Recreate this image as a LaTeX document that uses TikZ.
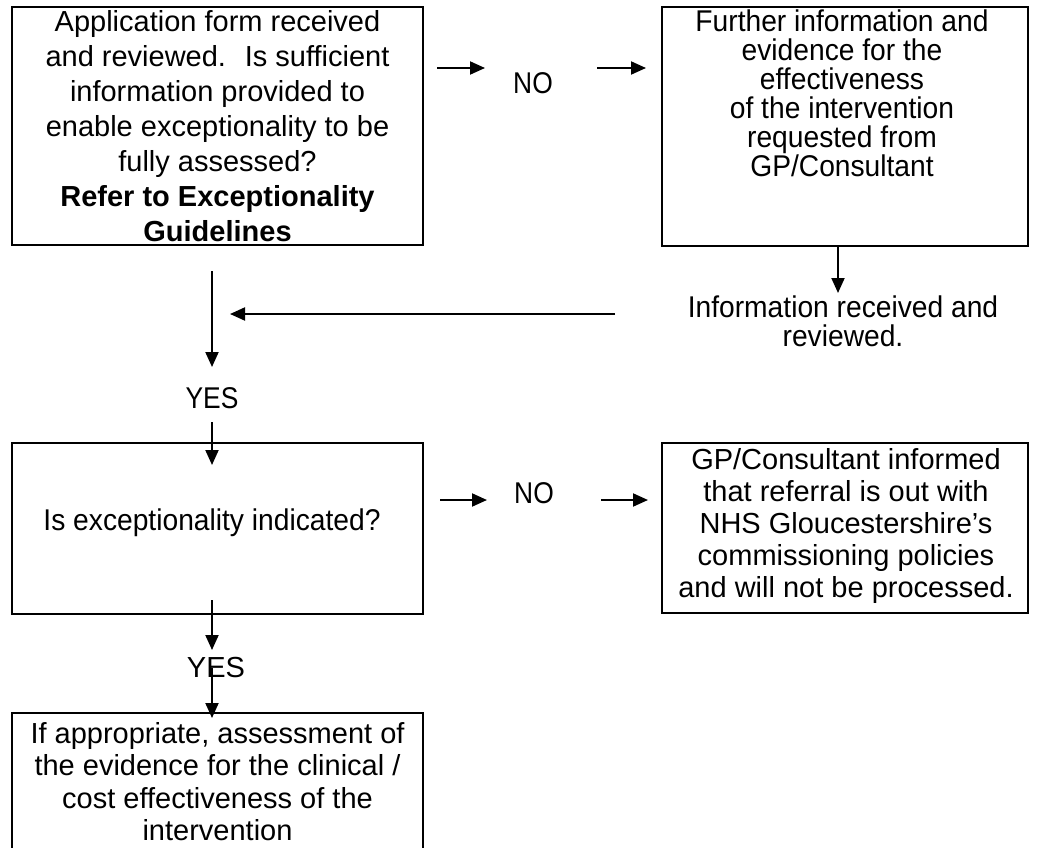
\documentclass[tikz,border=0pt]{standalone}
\usepackage{fontspec}
\setmainfont{Liberation Sans}
\newfontfamily\narrowfont[FakeStretch=0.88]{Liberation Sans}
\newfontfamily\semifont[FakeStretch=0.94]{Liberation Sans}
\usetikzlibrary{arrows.meta}
\begin{document}
\begin{tikzpicture}[x=1pt,y=-1pt,
  box/.style={draw, line width=2.4pt, inner sep=0pt},
  txt/.style={font=\fontsize{29}{35}\selectfont, align=center, inner sep=0pt},
  ntxt/.style={font=\narrowfont\fontsize{30}{29}\selectfont, align=center, inner sep=0pt},
  stxt/.style={font=\semifont\fontsize{30}{29}\selectfont, align=center, inner sep=0pt},
  arr/.style={line width=2pt, -{Triangle[length=15pt,width=13pt]}}]
\useasboundingbox (0,0) rectangle (1038,848);
\clip (0,0) rectangle (1038,848);
% boxes
\node[box, minimum width=411pt, minimum height=238pt] (b1) at (217.5,126) {};
\node[box, minimum width=366pt, minimum height=239pt] (b2) at (845,126.5) {};
\node[box, minimum width=411pt, minimum height=171pt] (b3) at (217.5,528.5) {};
\node[box, minimum width=366pt, minimum height=170pt] (b4) at (845,528) {};
\node[box, minimum width=411pt, minimum height=160pt] (b5) at (217.5,793) {};
% texts
\node[txt] (t1) at (217.5,126) {Application form received\\and reviewed.~ Is sufficient\\information provided to\\enable exceptionality to be\\fully assessed?\\\textbf{Refer to Exceptionality}\\\textbf{Guidelines}};
\node[stxt, anchor=north] (t2) at (842,10) {Further information and\\evidence for the\\effectiveness\\of the intervention\\requested from\\GP/Consultant};
\node[stxt, font=\semifont\fontsize{30}{29}\selectfont] (info) at (843,321) {Information received and\\reviewed.};
\node[stxt, font=\semifont\fontsize{30}{30}\selectfont] (t3) at (212,523) {Is exceptionality indicated?};
\node[txt, font=\fontsize{29}{32}\selectfont] (t4) at (846,526) {GP/Consultant informed\\that referral is out with\\NHS Gloucestershire’s\\commissioning policies\\and will not be processed.};
\node[txt, font=\fontsize{29}{32.5}\selectfont, anchor=north] (t5) at (217.5,722) {If appropriate, assessment of\\the evidence for the clinical /\\cost effectiveness of the\\intervention};
\node[ntxt] (no1) at (533,83) {NO};
\node[ntxt] (no2) at (534,493) {NO};
\node[ntxt] (yes1) at (212,398) {YES};
\node[txt] (yes2) at (216,668) {YES};
% connector end points
\coordinate (a1s) at (437,68); \coordinate (a1e) at (485,68);
\coordinate (a2s) at (597,68); \coordinate (a2e) at (646,68);
\coordinate (a3s) at (838,246); \coordinate (a3e) at (838,293);
\coordinate (a4s) at (615,314); \coordinate (a4e) at (230,314);
\coordinate (a5s) at (212,271); \coordinate (a5e) at (212,367);
\coordinate (a6s) at (212,422); \coordinate (a6e) at (212,465);
\coordinate (a7s) at (440,500); \coordinate (a7e) at (487,500);
\coordinate (a8s) at (601,500); \coordinate (a8e) at (648,500);
\coordinate (a9s) at (212,600); \coordinate (a9e) at (212,650);
\coordinate (a10s) at (212,668); \coordinate (a10e) at (212,718);
\draw[arr] (a1s) -- (a1e);
\draw[arr] (a2s) -- (a2e);
\draw[arr] (a3s) -- (a3e);
\draw[arr] (a4s) -- (a4e);
\draw[arr] (a5s) -- (a5e);
\draw[arr] (a6s) -- (a6e);
\draw[arr] (a7s) -- (a7e);
\draw[arr] (a8s) -- (a8e);
\draw[arr] (a9s) -- (a9e);
\draw[arr] (a10s) -- (a10e);
\end{tikzpicture}
\end{document}
